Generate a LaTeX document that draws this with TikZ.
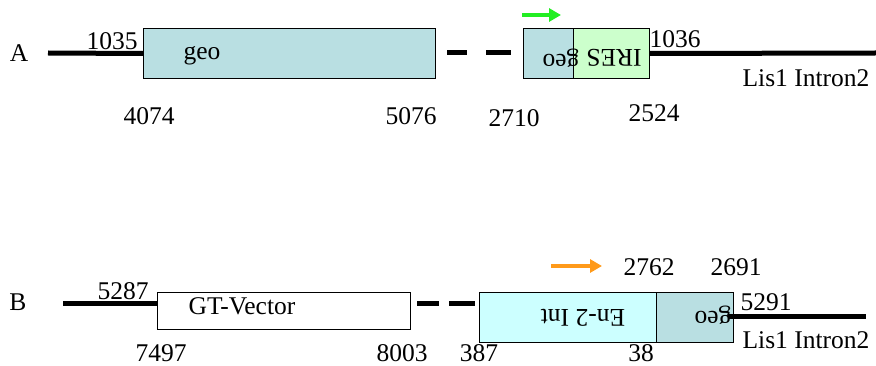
\documentclass[tikz,border=0pt]{standalone}
\usepackage{fontspec}
\setmainfont{Liberation Serif}
\usetikzlibrary{arrows.meta}
\definecolor{geoc}{HTML}{B9DFE2}
\definecolor{iresc}{HTML}{CCFFCC}
\definecolor{enc}{HTML}{CCFFFF}
\definecolor{greenarr}{HTML}{22EE22}
\definecolor{orangearr}{HTML}{FF9A1A}
\begin{document}
\begin{tikzpicture}[x=1pt,y=-1pt,
  font=\fontsize{25.5}{30}\selectfont,
  box/.style={draw, line width=1pt, inner sep=0pt, anchor=north west},
  thickline/.style={line width=5pt},
  lbl/.style={inner sep=0pt, anchor=base},
  rlbl/.style={inner sep=0pt, rotate=180},
  pointer/.style={line width=3.5pt, -{Triangle[length=12pt,width=13pt]}}]
\useasboundingbox (0,0) rectangle (876,366);

% ---------- Row A ----------
\node[lbl] (labA) at (19,62) {A};
\node[box, fill=geoc, minimum width=292pt, minimum height=50pt] (geoA) at (143,28) {};
\node[box, fill=geoc, minimum width=50pt, minimum height=50pt] (geoA2) at (523,28) {};
\node[box, fill=iresc, minimum width=76pt, minimum height=50pt] (ires) at (573,28) {};
\coordinate (Astart) at (48,53);
\coordinate (Aend) at (876,53);
\coordinate (Adash1) at (447,53);
\coordinate (Adash2) at (511,53);
\draw[thickline] (Astart) -- (geoA.west);
\draw[thickline, dash pattern=on 20pt off 19pt on 30pt] (Adash1) -- (Adash2);
\draw[thickline] (ires.east) -- (Aend);
\node[lbl] (tgeoA) at (202,60) {geo};
\node[rlbl] (tgeoA2) at (561,58) {geo};
\node[rlbl] (tires) at (614,58) {IRES};
\coordinate (gA1) at (522,15);
\coordinate (gA2) at (561,15);
\draw[pointer, greenarr] (gA1) -- (gA2);
\node[lbl] (n1035) at (112,50) {1035};
\node[lbl] (n1036) at (675,48) {1036};
\node[lbl] (lisA) at (806,87) {Lis1 Intron2};
\node[lbl] (n4074) at (149,125) {4074};
\node[lbl] (n5076) at (411,125) {5076};
\node[lbl] (n2710) at (514,127) {2710};
\node[lbl] (n2524) at (654,122) {2524};

% ---------- Row B ----------
\node[lbl] (labB) at (18,310) {B};
\node[box, fill=white, minimum width=253pt, minimum height=37pt] (gtv) at (157,292) {};
\node[box, fill=enc, minimum width=177pt, minimum height=50pt] (en2) at (479,292) {};
\node[box, fill=geoc, minimum width=77pt, minimum height=50pt] (geoB) at (656,292) {};
\coordinate (Bstart) at (63,304);
\coordinate (Bdash1) at (417,304);
\coordinate (Bdash2) at (475,304);
\coordinate (Bline1) at (728,316.5);
\coordinate (Bend) at (866,316.5);
\draw[thickline] (Bstart) -- (gtv.west |- Bstart);
\draw[thickline, dash pattern=on 22pt off 10pt on 30pt] (Bdash1) -- (Bdash2);
\draw[thickline] (Bline1) -- (Bend);
\node[lbl] (tgtv) at (242,314) {GT-Vector};
\node[rlbl] (ten2) at (583,318) {En-2 Int};
\node[rlbl] (tgeoB) at (713,315) {geo};
\coordinate (oB1) at (551,266);
\coordinate (oB2) at (602,266);
\draw[pointer, orangearr] (oB1) -- (oB2);
\node[lbl] (n5287) at (123,300) {5287};
\node[lbl] (n2762) at (649,276) {2762};
\node[lbl] (n2691) at (736,276) {2691};
\node[lbl] (n5291) at (766,310) {5291};
\node[lbl] (lisB) at (806,348) {Lis1 Intron2};
\node[lbl] (n7497) at (161,361) {7497};
\node[lbl] (n8003) at (402,361) {8003};
\node[lbl] (n387) at (479,361) {387};
\node[lbl] (n38) at (641,361) {38};
\end{tikzpicture}
\end{document}
